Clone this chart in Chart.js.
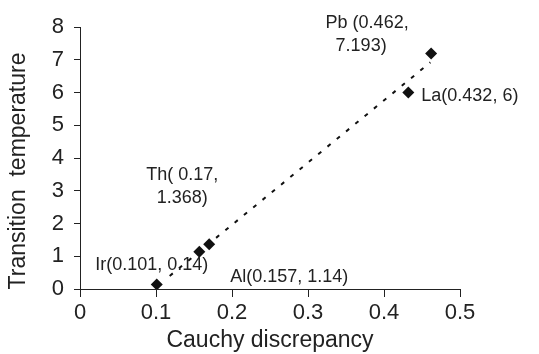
<!DOCTYPE html>
<html>
<head>
<meta charset="utf-8">
<script src="https://cdn.jsdelivr.net/npm/chart.js@4"></script>
<style>
  html, body { margin: 0; padding: 0; background: #fff; }
  #wrap { width: 539px; height: 354px; }
</style>
</head>
<body>
<div id="wrap"><canvas id="scatterChart"></canvas></div>
<script>
// values
const elements = ['Ir', 'Al', 'Th', 'La', 'Pb'];
const cauchy = [0.101, 0.157, 0.17, 0.432, 0.462];
const temps = [0.14, 1.14, 1.368, 6, 7.193];
const pointLabels = [
    ['Ir(0.101, 0.14)'],
    ['Al(0.157, 1.14)'],
    ['Th( 0.17,', '1.368)'],
    ['La(0.432, 6)'],
    ['Pb (0.462,', '7.193)']
];
// dashed fit line, ends
const trendX = [0.118, 0.461];
const trendY = [0.40, 6.92];

// where each label sits relative to its marker (px)
const labelOffsets = [
    { dx: -5, dy: -19, align: 'center' },
    { dx: 90, dy: 25, align: 'center' },
    { dx: -27, dy: -69, align: 'center' },
    { dx: 13, dy: 4, align: 'left' },
    { dx: -64, dy: -30, align: 'center' }
];

document.addEventListener("DOMContentLoaded", function () {
    const ctx = document.getElementById('scatterChart').getContext('2d');
    const fontFam = "'Liberation Sans', Arial, sans-serif";

    const labelPlugin = {
        id: 'pointLabels',
        afterDatasetsDraw: function (chart) {
            const c = chart.ctx;
            const xs = chart.scales.x, ys = chart.scales.y;
            c.save();
            c.fillStyle = '#222';
            c.font = `18px ${fontFam}`;
            c.textBaseline = 'middle';
            pointLabels.forEach(function (lines, i) {
                const off = labelOffsets[i];
                const px = xs.getPixelForValue(cauchy[i]) + off.dx;
                const py = ys.getPixelForValue(temps[i]) + off.dy;
                c.textAlign = off.align;
                lines.forEach(function (txt, j) {
                    // second line is nudged a little left for Pb as in the figure
                    const shift = (i === 4 && j === 1) ? -6 : 0;
                    c.fillText(txt, px + shift, py + j * 23);
                });
            });

            // y axis title, drawn by hand so it sits a bit lower like the original
            c.save();
            c.translate(19, 171);
            c.rotate(-Math.PI / 2);
            c.textAlign = 'center';
            c.font = `23px ${fontFam}`;
            c.fillText('Transition  temperature', 0, 0);
            c.restore();
            c.restore();
        }
    };

    new Chart(ctx, {
        type: 'scatter',
        data: {
            datasets: [{
                label: 'elements',
                data: cauchy.map((v, i) => ({ x: v, y: temps[i] })),
                pointStyle: 'rectRot',
                pointRadius: 6,
                backgroundColor: '#111',
                borderColor: '#111',
                borderWidth: 0
            }, {
                label: 'fit',
                type: 'line',
                data: trendX.map((v, i) => ({ x: v, y: trendY[i] })),
                borderColor: '#111',
                borderWidth: 2,
                borderDash: [4, 8],
                pointRadius: 0,
                fill: false
            }]
        },
        options: {
            responsive: true,
            maintainAspectRatio: false,
            animation: false,
            layout: { padding: { top: 27, right: 79, left: 0, bottom: 0 } },
            plugins: {
                legend: { display: false },
                tooltip: { enabled: false }
            },
            scales: {
                x: {
                    type: 'linear',
                    min: 0,
                    max: 0.5,
                    ticks: {
                        stepSize: 0.1,
                        color: '#222',
                        padding: 3,
                        font: { size: 22, family: fontFam }
                    },
                    grid: { drawOnChartArea: false, drawTicks: true, tickLength: 8, color: '#222' },
                    border: { color: '#222', width: 1 },
                    title: {
                        display: true,
                        text: 'Cauchy discrepancy',
                        color: '#222',
                        padding: 0,
                        font: { size: 23, family: fontFam }
                    },
                    afterFit: function (scale) { scale.height = 65; }
                },
                y: {
                    min: 0,
                    max: 8,
                    ticks: {
                        stepSize: 1,
                        color: '#222',
                        padding: 10,
                        font: { size: 22, family: fontFam }
                    },
                    grid: { drawOnChartArea: false, drawTicks: true, tickLength: 6, color: '#222' },
                    border: { color: '#222', width: 1 },
                    title: { display: false },
                    afterFit: function (scale) { scale.width = 80; }
                }
            }
        },
        plugins: [labelPlugin]
    });
});
</script>
</body>
</html>
